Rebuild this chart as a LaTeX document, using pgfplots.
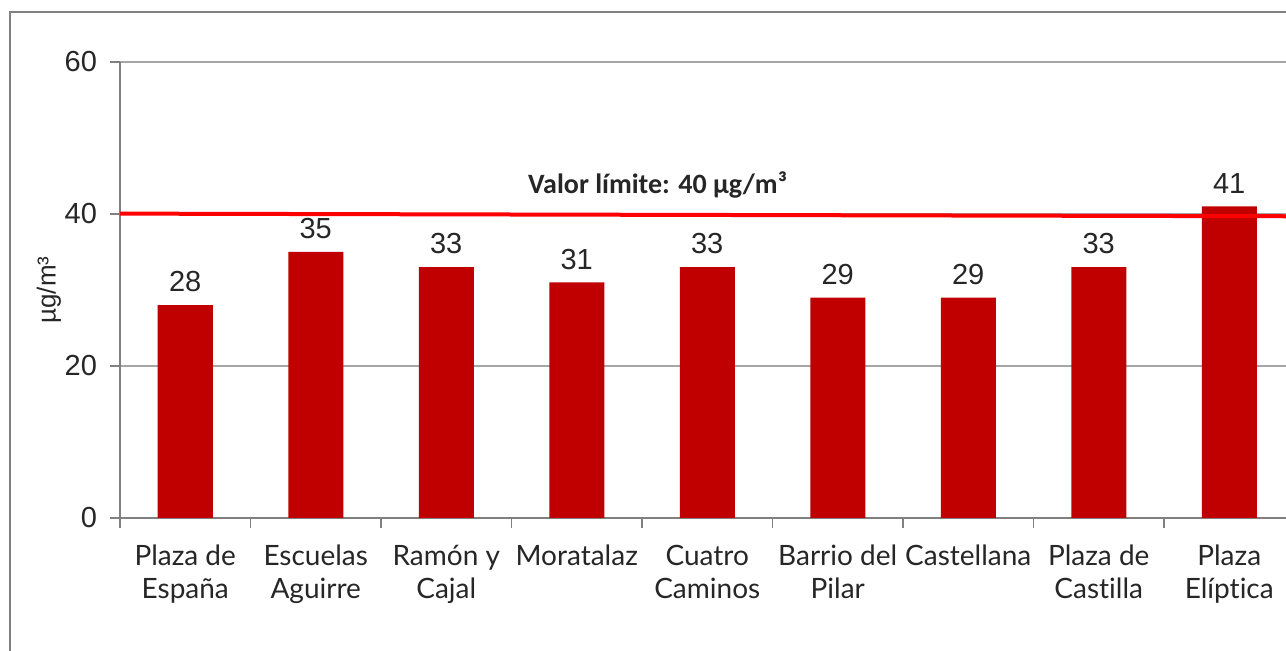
\documentclass[border=0pt]{standalone}
\usepackage{fontspec}
\setmainfont{Lato}[Ligatures={NoCommon}]
\newfontfamily\numfont{Liberation Sans}
\newfontfamily\carlito{Carlito}
\usepackage{pgfplots}
\pgfplotsset{compat=1.18}
\definecolor{barred}{HTML}{C00000}
\definecolor{gridgray}{HTML}{A6A6A6}
\definecolor{axgray}{HTML}{808080}
\definecolor{txt}{HTML}{262626}

\begin{document}
\begin{tikzpicture}
% 1 px of the reference = 0.5pt
\clip (0,0) rectangle (643pt,325.5pt);
\draw[axgray, line width=1pt] (5pt,-2pt) -- (5pt,319.5pt) -- (650pt,319.5pt);
\begin{axis}[
    at={(60pt,66.5pt)}, anchor=south west,
    scale only axis,
    width=587.25pt, height=228pt,
    xmin=-0.5, xmax=8.5,
    ymin=0, ymax=60,
    axis x line*=bottom, axis y line*=left,
    axis line style={axgray, line width=1pt, -},
    xtick={0,...,8},
    xticklabels={{Plaza de\\España},{Escuelas\\Aguirre},{Ramón y\\Cajal},{Moratalaz},{Cuatro\\Caminos},{Barrio del\\Pilar},{Castellana},{Plaza de\\Castilla},{Plaza\\Elíptica}},
    xticklabel style={align=center, font=\fontsize{14}{16.5}\selectfont, text=txt, yshift=-5pt},
    major x tick style={draw=none},
    minor xtick={-0.5,0.5,...,8.5},
    minor tick length=5pt,
    minor x tick style={axgray, line width=0.8pt},
    ytick={0,20,40,60},
    yticklabel style={font=\numfont\fontsize{14.5}{16}\selectfont, text=txt, xshift=-3pt},
    /pgf/number format/assume math mode=true,
    major tick length=5pt,
    tick align=outside,
    major y tick style={axgray, line width=0.8pt},
    ymajorgrids,
    grid style={gridgray, line width=1pt},
    ylabel={µg/m³},
    ylabel style={font=\numfont\fontsize{13}{15}\selectfont, text=txt, yshift=-5pt},
]
\addplot[ybar, bar width=27.5pt, fill=barred, draw=none,
    nodes near coords,
    every node near coord/.append style={font=\numfont\fontsize{14.5}{16}\selectfont, text=txt, yshift=3pt}]
    coordinates {(0,28) (1,35) (2,33) (3,31) (4,33) (5,29) (6,29) (7,33) (8,41)};
\addplot[red, line width=2pt, forget plot] coordinates {(-0.5,40.05) (8.5,39.7)};
\node[font=\carlito\bfseries\fontsize{14}{16}\selectfont, text=txt] at (axis cs:3.62,43.8) {Valor límite: 40 µg/m³};
\end{axis}
\end{tikzpicture}
\end{document}
